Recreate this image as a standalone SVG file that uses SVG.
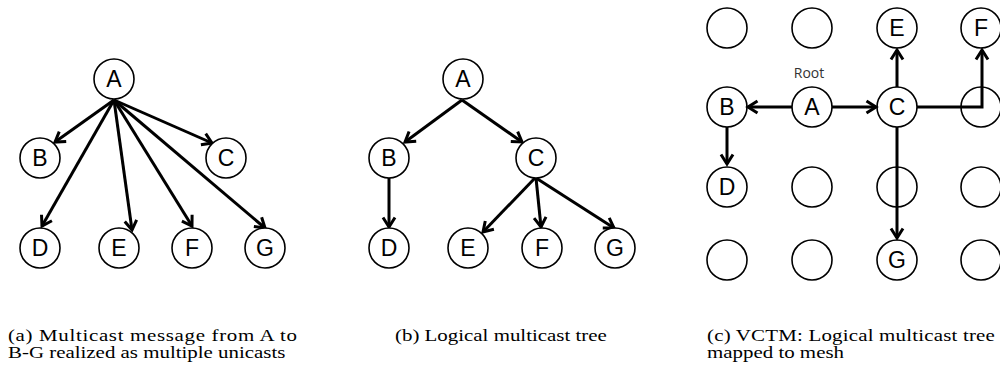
<svg xmlns="http://www.w3.org/2000/svg" width="1000" height="371" viewBox="0 0 1000 371">
<style>
.n circle{fill:#fff;stroke:#000;stroke-width:1.6}
.n text{font-family:"Liberation Sans",Arial,sans-serif;font-size:23px;fill:#000;text-anchor:middle}
.e{fill:none;stroke:#000;stroke-width:3;marker-end:url(#ah)}
.cap{font-family:"Liberation Serif","Times New Roman",serif;font-size:17px;fill:#000}
.root{font-family:"Open Sans","Noto Sans",sans-serif;font-size:14px;fill:#333;text-anchor:middle}
</style>
<defs>
<marker id="ah" markerUnits="userSpaceOnUse" markerWidth="16" markerHeight="16" viewBox="0 0 16 16" refX="11" refY="8" orient="auto">
<path d="M1.5,2 L11,8 L1.5,14" fill="none" stroke="#000" stroke-width="3"/>
</marker>
</defs>
<rect width="1000" height="371" fill="#fff"/>
<g id="connectors">
<line class="e" x1="114" y1="100" x2="55" y2="142"/>
<line class="e" x1="114" y1="100" x2="212" y2="143"/>
<line class="e" x1="114" y1="100" x2="42" y2="226"/>
<line class="e" x1="114" y1="100" x2="132" y2="230"/>
<line class="e" x1="114" y1="100" x2="192" y2="226"/>
<line class="e" x1="114" y1="100" x2="265" y2="228"/>
<line class="e" x1="462" y1="100" x2="405" y2="142"/>
<line class="e" x1="462" y1="100" x2="522" y2="142"/>
<line class="e" x1="389" y1="178" x2="389" y2="227"/>
<line class="e" x1="535" y1="178" x2="483" y2="232"/>
<line class="e" x1="536" y1="178" x2="541" y2="227"/>
<line class="e" x1="536" y1="178" x2="614" y2="228"/>
</g>
<g id="panel-a">
<g id="a-A" class="n"><circle cx="114" cy="79" r="20"/><text x="114" y="87">A</text></g>
<g id="a-B" class="n"><circle cx="40" cy="158" r="20"/><text x="40" y="166">B</text></g>
<g id="a-C" class="n"><circle cx="226" cy="158" r="20"/><text x="226" y="166">C</text></g>
<g id="a-D" class="n"><circle cx="40" cy="248" r="20"/><text x="40" y="256">D</text></g>
<g id="a-E" class="n"><circle cx="119" cy="248" r="20"/><text x="119" y="256">E</text></g>
<g id="a-F" class="n"><circle cx="192" cy="248" r="20"/><text x="192" y="256">F</text></g>
<g id="a-G" class="n"><circle cx="265" cy="248" r="20"/><text x="265" y="256">G</text></g>
</g>
<g id="panel-b">
<g id="b-A" class="n"><circle cx="463" cy="79" r="20"/><text x="463" y="87">A</text></g>
<g id="b-B" class="n"><circle cx="389" cy="158" r="20"/><text x="389" y="166">B</text></g>
<g id="b-C" class="n"><circle cx="536" cy="158" r="20"/><text x="536" y="166">C</text></g>
<g id="b-D" class="n"><circle cx="389" cy="248" r="20"/><text x="389" y="256">D</text></g>
<g id="b-E" class="n"><circle cx="468" cy="248" r="20"/><text x="468" y="256">E</text></g>
<g id="b-F" class="n"><circle cx="542" cy="248" r="20"/><text x="542" y="256">F</text></g>
<g id="b-G" class="n"><circle cx="615" cy="248" r="20"/><text x="615" y="256">G</text></g>
</g>
<g id="panel-c">
<g id="c-r1c1" class="n"><circle cx="727" cy="28" r="20"/></g>
<g id="c-r1c2" class="n"><circle cx="812" cy="28" r="20"/></g>
<g id="c-E" class="n"><circle cx="897" cy="28" r="20"/><text x="897" y="36">E</text></g>
<g id="c-F" class="n"><circle cx="981" cy="28" r="20"/><text x="981" y="36">F</text></g>
<g id="c-B" class="n"><circle cx="727" cy="107" r="20"/><text x="727" y="115">B</text></g>
<g id="c-A" class="n"><circle cx="812" cy="107" r="20"/><text x="812" y="115">A</text></g>
<g id="c-C" class="n"><circle cx="897" cy="107" r="20"/><text x="897" y="115">C</text></g>
<g id="c-r2c4" class="n"><circle cx="981" cy="107" r="20"/></g>
<g id="c-D" class="n"><circle cx="727" cy="187" r="20"/><text x="727" y="195">D</text></g>
<g id="c-r3c2" class="n"><circle cx="812" cy="187" r="20"/></g>
<g id="c-r3c3" class="n"><circle cx="897" cy="187" r="20"/></g>
<g id="c-r3c4" class="n"><circle cx="981" cy="187" r="20"/></g>
<g id="c-r4c1" class="n"><circle cx="727" cy="260" r="20"/></g>
<g id="c-r4c2" class="n"><circle cx="812" cy="260" r="20"/></g>
<g id="c-G" class="n"><circle cx="897" cy="260" r="20"/><text x="897" y="268">G</text></g>
<g id="c-r4c4" class="n"><circle cx="981" cy="260" r="20"/></g>
<text class="root" x="809" y="78">Root</text>
</g>
<g id="connectors-c">
<line class="e" x1="792" y1="107" x2="748" y2="107"/>
<line class="e" x1="832" y1="107" x2="876" y2="107"/>
<line class="e" x1="897" y1="87" x2="897" y2="50"/>
<polyline class="e" points="917,107 982,107 982,50"/>
<line class="e" x1="727" y1="127" x2="727" y2="164"/>
<line class="e" x1="897" y1="127" x2="897" y2="238"/>
</g>
<g id="captions">
<g transform="translate(8,0) scale(1.23,1)">
<text class="cap" x="0" y="341.5" textLength="235" lengthAdjust="spacing">(a) Multicast message from A to</text>
<text class="cap" x="0" y="358">B-G realized as multiple unicasts</text>
</g>
<g transform="translate(395,0) scale(1.23,1)">
<text class="cap" x="0" y="341.5">(b) Logical multicast tree</text>
</g>
<g transform="translate(707,0) scale(1.23,1)">
<text class="cap" x="0" y="341.5" textLength="234" lengthAdjust="spacing">(c) VCTM: Logical multicast tree</text>
<text class="cap" x="0" y="358">mapped to mesh</text>
</g>
</g>
</svg>
